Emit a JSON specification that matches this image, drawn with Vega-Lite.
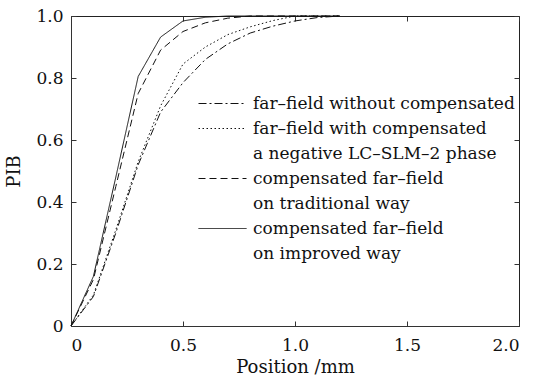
{
  "$schema": "https://vega.github.io/schema/vega-lite/v6.json",
  "width": 448,
  "height": 310,
  "autosize": {"type": "none"},
  "padding": {"left": 71, "top": 16, "right": 19, "bottom": 54},
  "background": "white",
  "config": {
    "view": {"stroke": "#222", "strokeWidth": 1},
    "font": "DejaVu Serif",
    "style": {
      "guide-label": {"lineHeight": 24.5, "dy": 5.5}
    },
    "axis": {
      "grid": false,
      "domainColor": "#333",
      "tickColor": "#333",
      "tickSize": -5,
      "labelColor": "#111",
      "titleColor": "#111",
      "labelFont": "DejaVu Serif",
      "titleFont": "DejaVu Serif",
      "labelFontSize": 17,
      "titleFontSize": 18,
      "titleFontWeight": "normal"
    },
    "legend": {
      "labelFont": "DejaVu Serif",
      "labelFontSize": 17,
      "labelColor": "#111"
    }
  },
  "data": {
    "values": [
      {"s": "without", "x": 0, "y": 0},
      {"s": "without", "x": 0.1, "y": 0.095},
      {"s": "without", "x": 0.2, "y": 0.3},
      {"s": "without", "x": 0.3, "y": 0.52},
      {"s": "without", "x": 0.4, "y": 0.69},
      {"s": "without", "x": 0.5, "y": 0.785},
      {"s": "without", "x": 0.6, "y": 0.86},
      {"s": "without", "x": 0.7, "y": 0.91},
      {"s": "without", "x": 0.8, "y": 0.945},
      {"s": "without", "x": 0.9, "y": 0.967},
      {"s": "without", "x": 1.0, "y": 0.984},
      {"s": "without", "x": 1.1, "y": 0.995},
      {"s": "without", "x": 1.2, "y": 1.0},
      {"s": "with", "x": 0, "y": 0},
      {"s": "with", "x": 0.1, "y": 0.1},
      {"s": "with", "x": 0.2, "y": 0.31},
      {"s": "with", "x": 0.3, "y": 0.53},
      {"s": "with", "x": 0.4, "y": 0.71},
      {"s": "with", "x": 0.5, "y": 0.845},
      {"s": "with", "x": 0.6, "y": 0.9},
      {"s": "with", "x": 0.7, "y": 0.94},
      {"s": "with", "x": 0.8, "y": 0.965},
      {"s": "with", "x": 0.9, "y": 0.985},
      {"s": "with", "x": 1.0, "y": 1.0},
      {"s": "with", "x": 1.2, "y": 1.0},
      {"s": "traditional", "x": 0, "y": 0},
      {"s": "traditional", "x": 0.1, "y": 0.15},
      {"s": "traditional", "x": 0.2, "y": 0.45},
      {"s": "traditional", "x": 0.3, "y": 0.75},
      {"s": "traditional", "x": 0.4, "y": 0.89},
      {"s": "traditional", "x": 0.5, "y": 0.95},
      {"s": "traditional", "x": 0.6, "y": 0.978},
      {"s": "traditional", "x": 0.7, "y": 0.993},
      {"s": "traditional", "x": 0.8, "y": 1.0},
      {"s": "traditional", "x": 1.2, "y": 1.0},
      {"s": "improved", "x": 0, "y": 0},
      {"s": "improved", "x": 0.1, "y": 0.16},
      {"s": "improved", "x": 0.2, "y": 0.48},
      {"s": "improved", "x": 0.3, "y": 0.805},
      {"s": "improved", "x": 0.4, "y": 0.932},
      {"s": "improved", "x": 0.5, "y": 0.984},
      {"s": "improved", "x": 0.6, "y": 0.996},
      {"s": "improved", "x": 0.7, "y": 1.0},
      {"s": "improved", "x": 1.2, "y": 1.0}
    ]
  },
  "resolve": {"axis": {"x": "independent", "y": "independent"}},
  "layer": [
    {
      "mark": {"type": "line", "color": "#111", "strokeWidth": 1},
      "encoding": {
        "x": {
          "field": "x", "type": "quantitative",
          "scale": {"domain": [0, 2], "nice": false, "zero": false},
          "axis": {
            "orient": "bottom",
            "values": [0, 0.5, 1, 1.5, 2],
            "labelExpr": "datum.value == 0 ? '0' : format(datum.value, '.1f')",
            "title": "Position /mm",
            "labelPadding": 11,
            "titlePadding": 5
          }
        },
        "y": {
          "field": "y", "type": "quantitative",
          "scale": {"domain": [0, 1], "nice": false, "zero": false},
          "axis": {
            "orient": "left",
            "values": [0, 0.2, 0.4, 0.6, 0.8, 1],
            "labelExpr": "datum.value == 0 ? '0' : format(datum.value, '.1f')",
            "title": "PIB",
            "labelPadding": 13,
            "labelOffset": -5.5,
            "titlePadding": 12
          }
        },
        "strokeDash": {
          "field": "s", "type": "nominal",
          "scale": {
            "domain": ["without", "with", "traditional", "improved"],
            "range": [[8, 3, 2, 3], [1.5, 2.5], [7, 4], [1, 0]]
          },
          "legend": {
            "title": null,
            "orient": "none",
            "legendX": 127,
            "legendY": 77,
            "padding": 0,
            "symbolType": "M-1,0H3.8",
            "symbolSize": 400,
            "symbolStrokeWidth": 1,
            "symbolStrokeColor": "#111",
            "symbolFillColor": "transparent",
            "labelOffset": 34,
            "labelBaseline": "alphabetic",
            "labelLimit": 400,
            "rowPadding": 6,
            "labelExpr": "datum.value == 'without' ? 'far–field without compensated' : datum.value == 'with' ? ['far–field with compensated', 'a negative LC–SLM–2 phase'] : datum.value == 'traditional' ? ['compensated far–field', 'on traditional way'] : ['compensated far–field', 'on improved way']"
          }
        }
      }
    },
    {
      "mark": {"type": "line", "opacity": 0},
      "encoding": {
        "x": {
          "field": "x", "type": "quantitative",
          "scale": {"domain": [0, 2], "nice": false, "zero": false},
          "axis": {"orient": "top", "values": [0, 0.5, 1, 1.5, 2], "labels": false, "domain": false, "title": null}
        },
        "y": {
          "field": "y", "type": "quantitative",
          "scale": {"domain": [0, 1], "nice": false, "zero": false},
          "axis": {"orient": "right", "values": [0, 0.2, 0.4, 0.6, 0.8, 1], "labels": false, "domain": false, "title": null}
        },
        "detail": {"field": "s"}
      }
    }
  ]
}
